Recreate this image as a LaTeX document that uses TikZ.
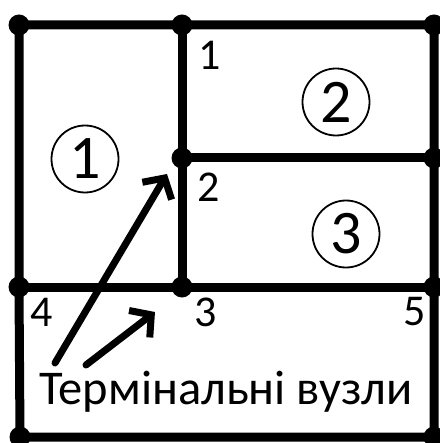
\documentclass[tikz,border=0pt]{standalone}
\usepackage{fontspec}
\setmainfont{Carlito}
\usepackage{tikz}
\usetikzlibrary{arrows.meta}

\begin{document}
\begin{tikzpicture}[x=1pt, y=-1pt,
    knot/.style={circle, fill=black, inner sep=0pt, minimum size=21pt},
    edge/.style={line width=9pt},
    region/.style={circle, draw, line width=1.8pt, inner sep=0pt, minimum size=67pt, font=\fontsize{62}{66}\selectfont},
    numlabel/.style={font=\fontsize{44}{48}\selectfont},
    pointer/.style={line width=7pt, line cap=round, line join=round, -{Straight Barb[length=15pt, width=34pt]}}]
      \useasboundingbox (0,0) rectangle (439,443);
      % knots
      \node[knot] (tl) at (19,25) {};
      \node[knot] (tm) at (182,25) {};
      \node[knot] (tr) at (434,25) {};
      \node[knot] (mm) at (182,158) {};
      \node[knot] (mr) at (434,158) {};
      \node[knot] (ml) at (19,287) {};
      \node[knot] (cm) at (182,287) {};
      \node[knot] (cr) at (434,287) {};
      \node[knot] (bl) at (20,437) {};
      \node[knot] (br) at (434,437) {};
      % edges
      \draw[edge] (tl.center) -- (tm.center) -- (tr.center) -- (mr.center) -- (cr.center) -- (br.center) -- (bl.center) -- (ml.center) -- (tl.center);
      \draw[edge] (tm.center) -- (mm.center) -- (cm.center);
      \draw[edge] (mm.center) -- (mr.center);
      \draw[edge] (ml.center) -- (cm.center) -- (cr.center);
      % regions
      \node[region] (r1) at (85,159) {1};
      \node[region] (r2) at (336,102) {2};
      \node[region] (r3) at (346,234) {3};
      % node numbers
      \node[numlabel] (n1) at (210,55) {1};
      \node[numlabel] (n2) at (209,187) {2};
      \node[numlabel] (n3) at (206,312) {3};
      \node[numlabel] (n4) at (42,312) {4};
      \node[numlabel] (n5) at (415,312) {5};
      % caption and arrows
      \node[font=\fontsize{48.5}{52}\selectfont] (cap) at (226,392) {Термінальні вузли};
      \coordinate (p1) at (55,363);
      \coordinate (q1) at (167,174);
      \coordinate (p2) at (86,365);
      \coordinate (q2) at (155,312);
      \draw[pointer] (p1) -- (q1);
      \draw[pointer] (p2) -- (q2);
    \end{tikzpicture}
\end{document}
